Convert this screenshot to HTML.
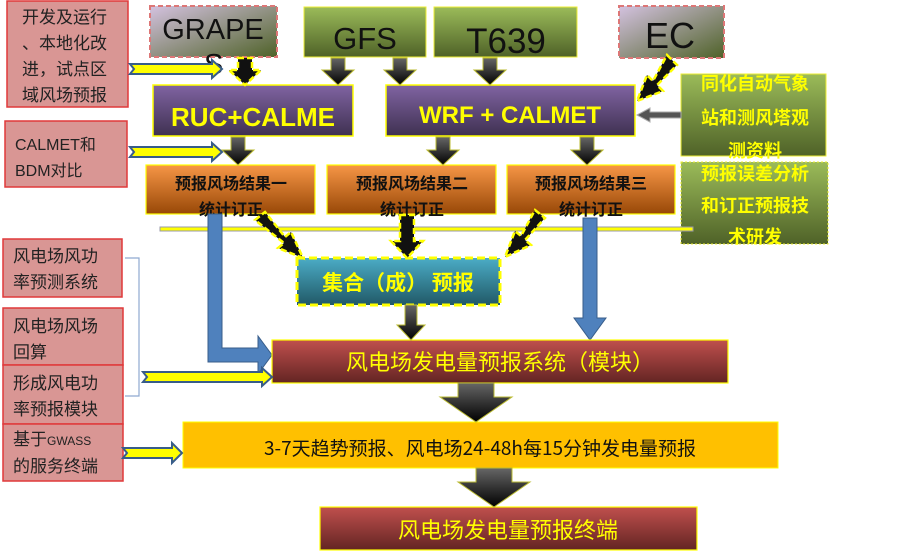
<!DOCTYPE html>
<html><head><meta charset="utf-8"><style>
html,body{margin:0;padding:0;background:#fff;}
svg{display:block;}
text{font-family:"Liberation Sans","Noto Sans CJK SC",sans-serif;}
.cj{font-family:"Noto Sans CJK SC","WenQuanYi Zen Hei",sans-serif;}
</style></head><body>
<svg width="898" height="551" viewBox="0 0 898 551" xmlns="http://www.w3.org/2000/svg">
<defs>
<linearGradient id="gp" x1="0" y1="0" x2="1" y2="1"><stop offset="0" stop-color="#d4c2e0"/><stop offset="1" stop-color="#4f6228"/></linearGradient>
<linearGradient id="gg" x1="0" y1="0" x2="0" y2="1"><stop offset="0" stop-color="#9bbb59"/><stop offset="1" stop-color="#4f6228"/></linearGradient>
<linearGradient id="gpu" x1="0" y1="0" x2="0" y2="1"><stop offset="0" stop-color="#8064a2"/><stop offset="1" stop-color="#3f3151"/></linearGradient>
<linearGradient id="go" x1="0" y1="0" x2="0" y2="1"><stop offset="0" stop-color="#f79646"/><stop offset="1" stop-color="#984807"/></linearGradient>
<linearGradient id="gt" x1="0" y1="0" x2="0" y2="1"><stop offset="0" stop-color="#4bacc6"/><stop offset="1" stop-color="#215967"/></linearGradient>
<linearGradient id="gr" x1="0" y1="0" x2="0" y2="1"><stop offset="0" stop-color="#c0504d"/><stop offset="1" stop-color="#632523"/></linearGradient>
<linearGradient id="gb" x1="0" y1="0" x2="0" y2="1"><stop offset="0" stop-color="#666"/><stop offset="1" stop-color="#000"/></linearGradient>
</defs>

<g fill="#d99694" stroke="#e0393a" stroke-width="1.5">
<rect x="7" y="1" width="121" height="106"/>
<rect x="5" y="121" width="122" height="66"/>
<rect x="3" y="239" width="119" height="58"/>
<rect x="3" y="308" width="120" height="57"/>
<rect x="3" y="365" width="120" height="59"/>
<rect x="3" y="424" width="120" height="57"/>
</g>
<g class="cj" font-size="17" fill="#222">
<text x="22" y="23">开发及运行</text>
<text x="22" y="49">、本地化改</text>
<text x="22" y="75">进，试点区</text>
<text x="22" y="101">域风场预报</text>
<text x="15" y="150" font-size="16">CALMET和</text>
<text x="15" y="176" font-size="16">BDM对比</text>
<text x="13" y="262">风电场风功</text>
<text x="13" y="288">率预测系统</text>
<text x="13" y="332">风电场风场</text>
<text x="13" y="358">回算</text>
<text x="13" y="389">形成风电功</text>
<text x="13" y="415">率预报模块</text>
<text x="13" y="445">基于<tspan font-size="12">GWASS</tspan></text>
<text x="13" y="472">的服务终端</text>
</g>
<path d="M125,258 H139 V396 H125" fill="none" stroke="#8fa9d0" stroke-width="1.2"/>

<rect x="150" y="6" width="127" height="51" fill="url(#gp)" stroke="#d77" stroke-width="2" stroke-dasharray="5,3"/>
<text x="213" y="39" font-size="29" text-anchor="middle" fill="#111">GRAPE</text>
<text x="204" y="74" font-size="29" fill="#111">S</text>
<rect x="304" y="7" width="122" height="50" fill="url(#gg)" stroke="#ee3" stroke-width="1"/>
<text x="365" y="49" font-size="31" text-anchor="middle" fill="#111">GFS</text>
<rect x="434" y="7" width="143" height="50" fill="url(#gg)" stroke="#ee3" stroke-width="1"/>
<text x="506" y="53" font-size="35" text-anchor="middle" fill="#111">T639</text>
<rect x="619" y="6" width="105" height="52" fill="url(#gp)" stroke="#d77" stroke-width="2" stroke-dasharray="5,3"/>
<text x="670" y="48" font-size="36" text-anchor="middle" fill="#111">EC</text>

<rect x="153" y="85" width="200" height="51" fill="url(#gpu)" stroke="#ff0" stroke-width="1.5"/>
<text x="253" y="126" font-size="26" font-weight="bold" text-anchor="middle" fill="#ff0">RUC+CALME</text>
<rect x="386" y="85" width="249" height="51" fill="url(#gpu)" stroke="#ff0" stroke-width="1.5"/>
<text x="510" y="123" font-size="24" font-weight="bold" text-anchor="middle" fill="#ff0">WRF + CALMET</text>

<rect x="681" y="74" width="145" height="82" fill="url(#gg)" stroke="#ee3" stroke-width="1"/>
<rect x="681" y="162" width="147" height="82" fill="url(#gg)" stroke="#ee3" stroke-width="1" stroke-dasharray="2,2"/>
<g font-family="'Noto Serif CJK SC',serif" font-size="18" font-weight="bold" fill="#ff0" text-anchor="middle">
<text x="755" y="90">同化自动气象</text>
<text x="755" y="124">站和测风塔观</text>
<text x="755" y="157">测资料</text>
<text x="755" y="180">预报误差分析</text>
<text x="755" y="212">和订正预报技</text>
<text x="755" y="243">术研发</text>
</g>

<g stroke="#ff0" stroke-width="1.2" fill="url(#go)">
<rect x="146" y="165" width="169" height="49"/>
<rect x="327" y="165" width="169" height="49"/>
<rect x="507" y="165" width="168" height="49"/>
</g>
<g class="cj" font-size="16" font-weight="bold" fill="#111" text-anchor="middle">
<text x="231" y="189">预报风场结果一</text><text x="231" y="215">统计订正</text>
<text x="412" y="189">预报风场结果二</text><text x="412" y="215">统计订正</text>
<text x="591" y="189">预报风场结果三</text><text x="591" y="215">统计订正</text>
</g>

<rect x="160" y="227" width="533" height="4" fill="#ff0" stroke="#99a" stroke-width="1"/>

<path d="M208,214 H222 V348 H258 V336 L272,355 L258,374 V362 H208 Z" fill="#4f81bd" stroke="#385d8a" stroke-width="1"/>
<path d="M583,218 H597 V318 H606 L590,340 L574,318 H583 Z" fill="#4f81bd" stroke="#385d8a" stroke-width="1"/>

<rect x="297" y="258" width="203" height="47" fill="url(#gt)" stroke="#ff0" stroke-width="3" stroke-dasharray="8,4"/>
<text x="398" y="290" class="cj" font-size="21" font-weight="bold" text-anchor="middle" fill="#ff0">集合（成） 预报</text>

<rect x="272" y="340" width="456" height="43" fill="url(#gr)" stroke="#ff0" stroke-width="1.2"/>
<text x="500" y="370" class="cj" font-size="22" text-anchor="middle" fill="#ff0">风电场发电量预报系统（模块）</text>

<rect x="183" y="422" width="595" height="46" fill="#ffc000" stroke="#ff0" stroke-width="1"/>
<text x="480" y="455" class="cj" font-size="19" text-anchor="middle" fill="#111">3-7天趋势预报、风电场24-48h每15分钟发电量预报</text>

<rect x="320" y="507" width="377" height="43" fill="url(#gr)" stroke="#ff0" stroke-width="1.2"/>
<text x="508" y="538" class="cj" font-size="22" text-anchor="middle" fill="#ff0">风电场发电量预报终端</text>

<g fill="url(#gb)" stroke="#bb3" stroke-width="1">
<path d="M331,58 h14 v12 h9 l-16,15 l-16,-15 h9 z"/>
<path d="M393,58 h14 v12 h9 l-16,15 l-16,-15 h9 z"/>
<path d="M483,58 h14 v12 h9 l-16,15 l-16,-15 h9 z"/>
<path d="M231,137 h14 v13 h9 l-16,15 l-16,-15 h9 z"/>
<path d="M436,137 h14 v13 h9 l-16,15 l-16,-15 h9 z"/>
<path d="M580,137 h14 v13 h9 l-16,15 l-16,-15 h9 z"/>
<path d="M405,305 h12 v20 h8 l-14,15 l-14,-15 h8 z"/>
<path d="M458,383 h36 v14 h18 l-36,25 l-36,-25 h18 z"/>
<path d="M476,468 h36 v14 h18 l-36,25 l-36,-25 h18 z"/>
</g>
<g fill="#111" stroke="#ff0" stroke-width="2.5" stroke-dasharray="6,3">
<path d="M238,58 h14 v12 h9 l-16,15 l-16,-15 h9 z"/>
<path d="M400,215 h14 v26 h9 l-16,17 l-16,-17 h9 z"/>
<path d="M667,55 l10,10 l-20,20 l6,6 l-26,10 l10,-26 l6,6 z"/>
<path d="M255,220 l10,-8 l20,25 l6,-5 l12,26 l-25,-10 l6,-5 z"/>
<path d="M535,210 l10,8 l-20,22 l6,5 l-26,12 l10,-26 l6,5 z"/>
</g>
<path d="M681,112 H650 V108 L637,115 L650,122 V118 H681 Z" fill="#555" stroke="#aaa" stroke-width="1"/>

<g fill="#ff0" stroke="#385d8a" stroke-width="2">
<path d="M130,64 H212 V60 L222,69 L212,78 V74 H130 L134,69 Z"/>
<path d="M130,147 H212 V143 L222,152 L212,161 V157 H130 L134,152 Z"/>
<path d="M143,372 H262 V368 L272,377 L262,386 V382 H143 L147,377 Z"/>
<path d="M123,448 H172 V443 L182,453 L172,463 V458 H123 L127,453 Z"/>
</g>
</svg>
</body></html>
